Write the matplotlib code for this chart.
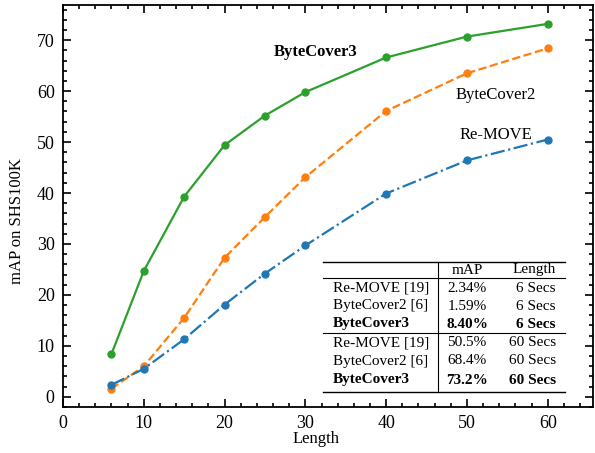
import matplotlib.pyplot as plt
from matplotlib.ticker import MultipleLocator
from matplotlib.lines import Line2D

plt.rcParams['font.family'] = ['Liberation Serif', 'DejaVu Serif']
plt.rcParams['mathtext.fontset'] = 'stix'

lengths = [6, 10, 15, 20, 25, 30, 40, 50, 60]
remove_map = [2.34, 5.5, 11.3, 18.1, 24.2, 29.7, 39.9, 46.4, 50.5]
bytecover2_map = [1.59, 6.0, 15.5, 27.3, 35.3, 43.1, 56.1, 63.5, 68.4]
bytecover3_map = [8.4, 24.7, 39.3, 49.4, 55.2, 59.8, 66.6, 70.7, 73.2]

table_header = ['', 'mAP', 'Length']
table_methods = ['Re-MOVE [19]', 'ByteCover2 [6]', 'ByteCover3',
                 'Re-MOVE [19]', 'ByteCover2 [6]', 'ByteCover3']
table_map = ['2.34%', '1.59%', '8.40%', '50.5%', '68.4%', '73.2%']
table_len = ['6 Secs', '6 Secs', '6 Secs', '60 Secs', '60 Secs', '60 Secs']
table_bold = [False, False, True, False, False, True]

W, H = 595, 453
fig = plt.figure(figsize=(W / 100, H / 100), dpi=100)
ax = fig.add_axes([63 / W, (H - 407) / H, 530 / W, 402 / H])

ax.plot(lengths, bytecover3_map, '-', color='tab:green', lw=1.6,
        marker='o', ms=5)
ax.plot(lengths, bytecover2_map, '--', color='tab:orange', lw=1.6,
        marker='o', ms=5)
ax.plot(lengths, remove_map, '-.', color='tab:blue', lw=1.6,
        marker='o', ms=5)

ax.text(31.3, 67.6, 'ByteCover3', fontsize=12, fontweight='bold',
        ha='center', va='center')
ax.text(53.6, 59.2, 'ByteCover2', fontsize=12, ha='center', va='center')
ax.text(53.6, 51.4, 'Re-MOVE', fontsize=12, ha='center', va='center')

ax.set_xlim(0, 65.6)
ax.set_ylim(-2.0, 76.9)
ax.xaxis.set_major_locator(MultipleLocator(10))
ax.xaxis.set_minor_locator(MultipleLocator(2))
ax.yaxis.set_major_locator(MultipleLocator(10))
ax.yaxis.set_minor_locator(MultipleLocator(2))
ax.tick_params(which='both', direction='in', top=True, right=True,
               labelsize=13, width=1.2)
ax.tick_params(which='major', length=6, pad=6)
ax.tick_params(which='minor', length=3)
for s in ax.spines.values():
    s.set_linewidth(1.3)
ax.set_xlabel('Length', fontsize=12, va='center')
ax.set_ylabel('mAP on SHS100K', fontsize=12, va='center')
ax.xaxis.set_label_coords(0.477, -0.0806)
ax.yaxis.set_label_coords(-0.0868, 0.463)


# table drawn in figure pixel space
def fx(px):
    return px / W


def fy(py):
    return 1 - py / H


row_y = [270, 288, 306, 324, 343, 361, 380]
x0, x1, xdiv = 323, 565, 438
for yl, lw in [(262, 1.0), (278, 0.8), (333, 0.8), (392, 1.0)]:
    fig.add_artist(Line2D([fx(x0), fx(x1)], [fy(yl), fy(yl)],
                          color='black', lw=lw))
fig.add_artist(Line2D([fx(xdiv), fx(xdiv)], [fy(262), fy(392)],
                      color='black', lw=0.8))

fig.text(fx(467), fy(row_y[0]), table_header[1], fontsize=11,
         ha='center', va='center')
fig.text(fx(556), fy(row_y[0]), table_header[2], fontsize=11,
         ha='right', va='center')
for i in range(6):
    w = 'bold' if table_bold[i] else 'normal'
    y = fy(row_y[i + 1])
    fig.text(fx(333), y, table_methods[i], fontsize=11, fontweight=w,
             ha='left', va='center')
    fig.text(fx(467), y, table_map[i], fontsize=11, fontweight=w,
             ha='center', va='center')
    fig.text(fx(556), y, table_len[i], fontsize=11, fontweight=w,
             ha='right', va='center')

plt.savefig('out.png', dpi=100)
